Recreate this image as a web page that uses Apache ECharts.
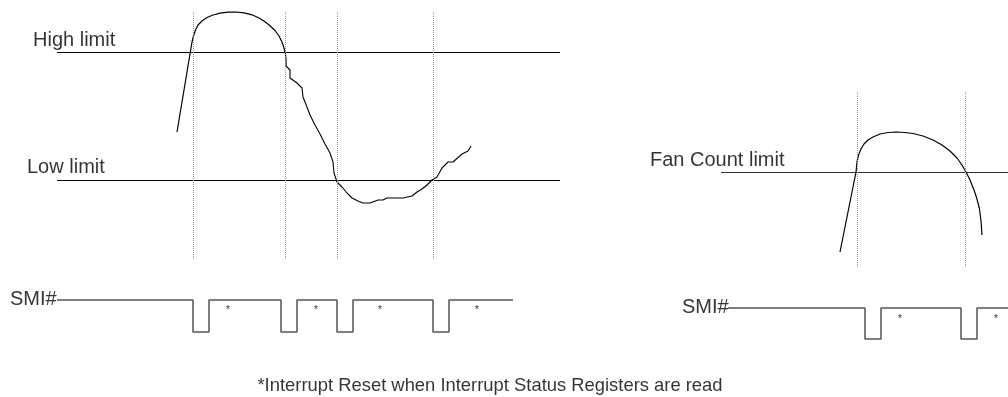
<!DOCTYPE html>
<html>
<head>
<meta charset="utf-8">
<script src="https://cdn.jsdelivr.net/npm/echarts@6/dist/echarts.min.js"></script>
<style>
  html, body { margin: 0; padding: 0; background: #fff; }
  #chart { width: 1008px; height: 397px; }
</style>
</head>
<body>
<div id="chart"></div>
<script>
// everything is in picture units: x 0..1008, y 0..397 (top down)
const tempArc = [[177,132],[192,42],[193.5,36],[195.5,30],[198,25],[202,21],[207,17.5],[213,15],[220,13.2],[228,12.2],[236,12],[244,12.8],[252,14.8],[259,18],[265,21.8],[270,25.8],[275,30.5],[279,36],[282,42],[284,48],[285.5,54],[286,60],[286,66]]
const tempFall = [[286,66],[287,68],[290,70],[290,78],[297,83],[302,88],[303,97],[307,107],[310,115],[315,125],[320,134],[325,144],[330,153],[333,162],[334,173],[337,182],[342,187],[347,193],[352,198],[358,201],[363,203],[370,203],[378,200],[383,200],[387,198],[403,198],[412,196],[417,192],[422,189],[427,185],[432,180],[437,177],[442,168],[448,162],[453,162],[462,154],[468,151],[471,146]]
const fanCurve = [[840,252],[856,172],[857,162],[858.5,155],[861,149],[864,144],[868,140],[873,137],[880,134],[888,132.5],[896,132],[905,132.5],[913,133.5],[923,136],[933,140],[942,145],[950,151],[957,158],[962,165],[966,172],[970,180],[974,190],[977,199],[979.5,209],[981,221],[982,235]]

const highLimit = [[57,52.5],[560,52.5]]
const lowLimit = [[57,180.5],[560,180.5]]
const fanLimit = [[721,172.5],[1008,172.5]]

const leftMarkers = [193.5, 285.5, 337.5, 433.5]
const leftMarkerSpan = [12, 260]
const rightMarkers = [857.5, 965.5]
const rightMarkerSpan = [92, 267]

const smiLeft = [[57,300],[193,300],[193,332],[209,332],[209,300],[281,300],[281,332],[297,332],[297,300],[337,300],[337,332],[353,332],[353,300],[433,300],[433,332],[449,332],[449,300],[513,300]]
const smiRight = [[728,308],[865,308],[865,339],[881,339],[881,308],[961,308],[961,339],[977,339],[977,308],[1008,308]]

const stars = [[228,310],[316,310],[380,310],[477,310],[900,319],[996,319]]

const labels = [
  { text: 'High limit', at: [33,40] },
  { text: 'Low limit', at: [27,167] },
  { text: 'SMI#', at: [10,299] },
  { text: 'Fan Count limit', at: [650,160] },
  { text: 'SMI#', at: [682,307] },
]
const footnote = { text: '*Interrupt Reset when Interrupt Status Registers are read', at: [490,386] }

const chart = echarts.init(document.getElementById('chart'))

function plain(data, color, width, extra) {
  return Object.assign({
    type: 'line',
    data,
    symbol: 'none',
    silent: true,
    lineStyle: { color, width },
  }, extra || {})
}

const series = [
  plain(highLimit, '#000', 1),
  plain(lowLimit, '#000', 1),
  plain(fanLimit, '#333', 1),
  plain(tempArc, '#000', 1.2),
  plain(tempFall, '#000', 1.1),
  plain(fanCurve, '#000', 1.2),
  plain(smiLeft, '#555', 1.5),
  plain(smiRight, '#555', 1.5),
]

// dotted marker lines
const dotted = { lineStyle: { color: '#999', width: 1, type: [1, 1] } }
leftMarkers.forEach(x => {
  series.push(plain([[x, leftMarkerSpan[0]], [x, leftMarkerSpan[1]]], '#999', 1, dotted))
})
rightMarkers.forEach(x => {
  series.push(plain([[x, rightMarkerSpan[0]], [x, rightMarkerSpan[1]]], '#999', 1, dotted))
})

series.push({
  type: 'scatter',
  silent: true,
  symbolSize: 0,
  data: stars,
  label: { show: true, position: 'inside', formatter: '*', color: '#000', fontSize: 11, fontFamily: 'Liberation Sans, Arial, sans-serif' },
})

series.push({
  type: 'scatter',
  silent: true,
  symbolSize: 0,
  data: labels.map(l => ({ value: l.at, name: l.text })),
  label: { show: true, position: 'right', distance: 0, formatter: '{b}', color: '#000', fontSize: 20, fontFamily: 'Liberation Sans, Arial, sans-serif' },
})

series.push({
  type: 'scatter',
  silent: true,
  symbolSize: 0,
  data: [{ value: footnote.at, name: footnote.text }],
  label: { show: true, position: 'inside', formatter: '{b}', color: '#000', fontSize: 18.4, fontFamily: 'Liberation Sans, Arial, sans-serif' },
})

chart.setOption({
  animation: false,
  grid: { left: 0, right: 0, top: 0, bottom: 0 },
  xAxis: { type: 'value', min: 0, max: 1008, show: false },
  yAxis: { type: 'value', min: 0, max: 397, inverse: true, show: false },
  series,
})
</script>
</body>
</html>
